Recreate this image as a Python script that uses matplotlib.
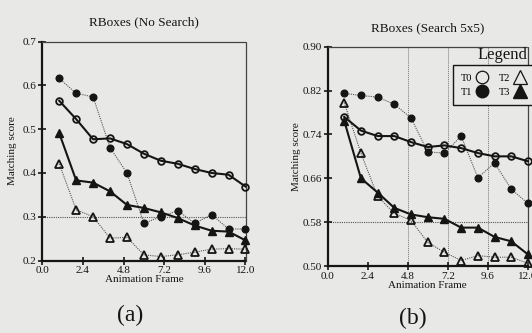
import matplotlib
matplotlib.use("Agg")
import matplotlib.pyplot as plt
from matplotlib.lines import Line2D

plt.rcParams['font.family'] = ['Liberation Serif', 'DejaVu Serif']

frames = list(range(1, 13))
xticks = [0.0, 2.4, 4.8, 7.2, 9.6, 12.0]

# (a) RBoxes (No Search)
a_t0 = [0.565, 0.523, 0.477, 0.479, 0.466, 0.444, 0.428, 0.421, 0.409, 0.400, 0.396, 0.369]
a_t1 = [0.616, 0.582, 0.574, 0.458, 0.400, 0.285, 0.300, 0.314, 0.285, 0.305, 0.272, 0.272]
a_t2 = [0.421, 0.316, 0.300, 0.251, 0.253, 0.213, 0.209, 0.213, 0.219, 0.226, 0.227, 0.226]
a_t3 = [0.491, 0.383, 0.378, 0.358, 0.327, 0.320, 0.310, 0.297, 0.280, 0.268, 0.266, 0.246]
a_yticks = [0.2, 0.3, 0.4, 0.5, 0.6, 0.7]

# (b) RBoxes (Search 5x5)
b_t0 = [0.772, 0.747, 0.737, 0.737, 0.726, 0.717, 0.720, 0.715, 0.706, 0.700, 0.700, 0.691]
b_t1 = [0.815, 0.811, 0.808, 0.795, 0.770, 0.708, 0.706, 0.737, 0.661, 0.688, 0.640, 0.614]
b_t2 = [0.798, 0.706, 0.627, 0.596, 0.583, 0.543, 0.525, 0.510, 0.519, 0.516, 0.516, 0.505]
b_t3 = [0.765, 0.660, 0.634, 0.606, 0.594, 0.589, 0.586, 0.570, 0.570, 0.553, 0.545, 0.521]
b_yticks = [0.50, 0.58, 0.66, 0.74, 0.82, 0.90]

BG = '#e8e8e6'
INK = '#151515'

fig = plt.figure(figsize=(5.32, 3.33), dpi=100, facecolor=BG)
axA = fig.add_axes([42.3/532, 1-260.5/333, 203.2/532, 218.8/333], facecolor=BG)
axB = fig.add_axes([327.5/532, 1-266/333, 200.5/532, 219.3/333], facecolor=BG)

def style(ax, yticks, yfmt, hgrid, vgrid, ylpad):
    ax.set_xlim(0, 12)
    ax.set_ylim(yticks[0], yticks[-1])
    ax.set_xticks(xticks)
    ax.set_xticklabels([f"{v:.1f}" for v in xticks])
    ax.set_yticks(yticks)
    ax.set_yticklabels([yfmt.format(v) for v in yticks])
    for s in ('left', 'bottom'):
        ax.spines[s].set_linewidth(1.6)
        ax.spines[s].set_color(INK)
    for s in ('top', 'right'):
        ax.spines[s].set_linestyle((0, (1, 1)))
        ax.spines[s].set_linewidth(0.9)
        ax.spines[s].set_color('#444444')
    ax.tick_params(direction='inout', length=6, width=1.2, labelsize=8, colors=INK, pad=1)
    for y in hgrid:
        ax.axhline(y, color='#555555', lw=0.8, ls=(0, (1, 1)), zorder=1)
    for x in vgrid:
        ax.axvline(x, color='#777777', lw=0.7, ls=(0, (1, 1)), zorder=1)
    ax.set_xlabel('Animation Frame', fontsize=8, color=INK, labelpad=0)
    ax.set_ylabel('Matching score', fontsize=8, color=INK, labelpad=ylpad)

def draw(ax, t0, t1, t2, t3):
    ms = 4.8
    ax.plot(frames, t1, color='#555555', lw=0.8, ls=(0, (1, 1)), marker='o', ms=ms,
            mfc=INK, mec=INK, zorder=3, clip_on=False)
    ax.plot(frames, t2, color='#555555', lw=0.8, ls=(0, (1, 1)), marker='^', ms=ms + 0.4,
            mfc='none', mec=INK, mew=1.3, zorder=3, clip_on=False)
    ax.plot(frames, t3, color=INK, lw=1.5, marker='^', ms=ms + 0.4,
            mfc=INK, mec=INK, zorder=4, clip_on=False)
    ax.plot(frames, t0, color=INK, lw=1.5, marker='o', ms=ms,
            mfc='none', mec=INK, mew=1.3, zorder=4, clip_on=False)

style(axA, a_yticks, "{:.1f}", [0.3], [], 4)
draw(axA, a_t0, a_t1, a_t2, a_t3)
axA.set_title('RBoxes (No Search)', fontsize=9.5, color=INK, pad=12)

style(axB, b_yticks, "{:.2f}", [0.58], [4.8, 7.2, 9.6], 1)
draw(axB, b_t0, b_t1, b_t2, b_t3)
axB.set_title('RBoxes (Search 5x5)', fontsize=9.5, color=INK, pad=11)

handles = [
    Line2D([], [], ls='none', marker='o', ms=9, mfc='none', mec=INK, mew=0.9),
    Line2D([], [], ls='none', marker='o', ms=9, mfc=INK, mec=INK),
    Line2D([], [], ls='none', marker='^', ms=10, mfc='none', mec=INK, mew=0.9),
    Line2D([], [], ls='none', marker='^', ms=10, mfc=INK, mec=INK),
]
leg = axB.legend(handles, ['T0', 'T1', 'T2', 'T3'], ncol=2, markerfirst=False,
                 loc='upper left', bbox_to_anchor=((453-327.5)/200.5, 1-(65-46.7)/219.3),
                 frameon=True, fancybox=False, fontsize=7.5, handlelength=1.2,
                 handletextpad=0.3, columnspacing=1.0, borderpad=0.8, labelspacing=0.5,
                 borderaxespad=0)
leg.get_frame().set_edgecolor(INK)
leg.get_frame().set_linewidth(1.0)
leg.get_frame().set_facecolor(BG)
leg.get_frame().set_alpha(1)
axB.text((478-327.5)/200.5, 1-(55-46.7)/219.3, 'Legend', transform=axB.transAxes,
         fontsize=12, color=INK, va='center', ha='left', clip_on=False)

fig.text(130/532, 1-315/333, '(a)', fontsize=17, color=INK, ha='center', va='center')
fig.text(413/532, 1-318/333, '(b)', fontsize=17, color=INK, ha='center', va='center')

fig.savefig('out.png', dpi=100, facecolor=BG)
